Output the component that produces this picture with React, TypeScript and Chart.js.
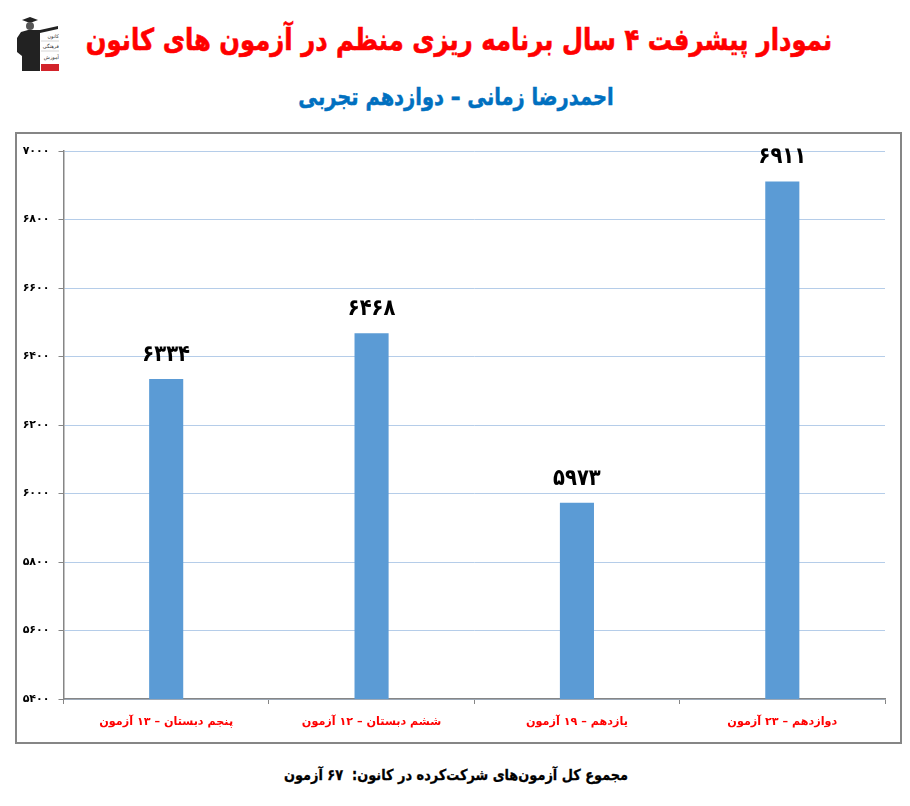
import React, { useEffect, useRef } from 'react';
import { Chart, registerables } from 'chart.js';

Chart.register(...registerables);

const categories = ['پنجم دبستان – ۱۳ آزمون', 'ششم دبستان – ۱۲ آزمون', 'یازدهم – ۱۹ آزمون', 'دوازدهم – ۲۳ آزمون'];
const scores = [6334, 6468, 5973, 6911];
const yMin = 5400;
const yMax = 7000;
const yStep = 200;

const mainTitle = 'نمودار پیشرفت ۴ سال برنامه ریزی منظم در آزمون های کانون';
const subTitle = 'احمدرضا زمانی – دوازدهم تجربی';
const footer = 'مجموع کل آزمون‌های شرکت‌کرده در کانون:  ۶۷ آزمون';

const FONT = '"DejaVu Sans", sans-serif';

const toPersian = (n: number) => String(n).replace(/\d/g, (d) => '۰۱۲۳۴۵۶۷۸۹'[Number(d)]);

// اعداد بالای ستون‌ها
const valueLabels = {
  id: 'valueLabels',
  afterDatasetsDraw(chart: any) {
    const { ctx } = chart;
    const meta = chart.getDatasetMeta(0);
    meta.data.forEach((bar: any, i: number) => {
      ctx.save();
      ctx.translate(bar.x, bar.y - 24);
      ctx.scale(0.85, 1);
      ctx.font = `bold 23px ${FONT}`;
      ctx.fillStyle = '#000';
      ctx.textAlign = 'center';
      ctx.textBaseline = 'middle';
      ctx.fillText(toPersian(scores[i]), 0, 0);
      ctx.restore();
    });
  },
};

const Logo: React.FC = () => (
  <svg width="43" height="56" viewBox="0 0 43 56" style={{ position: 'absolute', left: 16, top: 16 }}>
    <polygon points="6,4 14,1 22,4 14,7" fill="#222" />
    <circle cx="14" cy="10" r="4" fill="#555" />
    <path d="M5 16 L12 14 L24 14 L42 10 L42 13 L24 17 L24 55 L6 55 L6 40 L1 36 L1 22 Z" fill="#222" />
    <rect x="25" y="48" width="18" height="7" fill="#d2232a" />
    <line x1="25" y1="25" x2="43" y2="25" stroke="#bbb" strokeWidth="0.6" />
    <line x1="25" y1="35" x2="43" y2="35" stroke="#bbb" strokeWidth="0.6" />
    <text x="43" y="22" fontSize="5" textAnchor="start" direction="rtl" fontFamily={FONT} fill="#333">کانون</text>
    <text x="43" y="32" fontSize="5" textAnchor="start" direction="rtl" fontFamily={FONT} fill="#333">فرهنگی</text>
    <text x="43" y="43" fontSize="5" textAnchor="start" direction="rtl" fontFamily={FONT} fill="#333">آموزش</text>
  </svg>
);

// the box is wider than the page so long rtl text stays centred on centerX
const textStyle = (top: number, size: number, color: string, centerX: number, scaleX: number, stroke: number): React.CSSProperties => ({
  position: 'absolute',
  left: centerX - 600,
  top,
  width: 1200,
  textAlign: 'center',
  direction: 'rtl',
  fontFamily: FONT,
  fontWeight: 'bold',
  fontSize: size,
  color,
  lineHeight: 1,
  whiteSpace: 'pre',
  transform: `scaleX(${scaleX})`,
  WebkitTextStroke: `${stroke}px ${color}`,
});

export default function App() {
  const canvasRef = useRef<HTMLCanvasElement>(null);

  useEffect(() => {
    if (!canvasRef.current) return;
    document.body.style.margin = '0';

    const config: any = {
      type: 'bar',
      data: {
        labels: categories,
        datasets: [{
          data: scores,
          backgroundColor: '#5b9bd5',
          borderWidth: 0,
          barPercentage: 0.166,
          categoryPercentage: 1,
        }],
      },
      plugins: [valueLabels],
      options: {
        responsive: false,
        animation: false,
        layout: { padding: { top: 17, right: 15, left: 0, bottom: 0 } },
        plugins: { legend: { display: false }, tooltip: { enabled: false } },
        scales: {
          x: {
            grid: { drawOnChartArea: false, color: '#868686', tickLength: 5, offset: true },
            border: { color: '#868686', width: 1.5 },
            ticks: { color: '#ff0000', font: { family: FONT, weight: 'bold', size: 11.2 }, padding: 11, maxRotation: 0 },
            afterFit: (axis: any) => { axis.height = 43; },
          },
          y: {
            min: yMin,
            max: yMax,
            grid: { color: '#b5cde9', tickColor: '#868686', tickLength: 5, lineWidth: 1 },
            border: { color: '#868686', width: 1.5 },
            ticks: {
              stepSize: yStep,
              color: '#000',
              padding: 9,
              font: { family: FONT, weight: 'bold', size: 11 },
              callback: (value: any) => toPersian(value),
            },
            afterFit: (axis: any) => { axis.width = 46.5; },
          },
        },
      },
    };

    const chart = new Chart(canvasRef.current, config);
    return () => chart.destroy();
  }, []);

  return (
    <div style={{ position: 'relative', width: 910, height: 806, background: '#fff', overflow: 'hidden' }}>
      <Logo />
      <div style={textStyle(25, 30, '#ff0000', 459, 0.81, 0.6)}>{mainTitle}</div>
      <div style={textStyle(85, 24, '#0070c0', 456, 0.81, 0.5)}>{subTitle}</div>
      <div style={{ position: 'absolute', left: 15, top: 132, width: 883, height: 608, border: '2px solid #868686' }}>
        <canvas ref={canvasRef} width={883} height={608} style={{ display: 'block' }} />
      </div>
      <div style={textStyle(768, 15, '#000', 456, 0.86, 0.3)}>{footer}</div>
    </div>
  );
}
